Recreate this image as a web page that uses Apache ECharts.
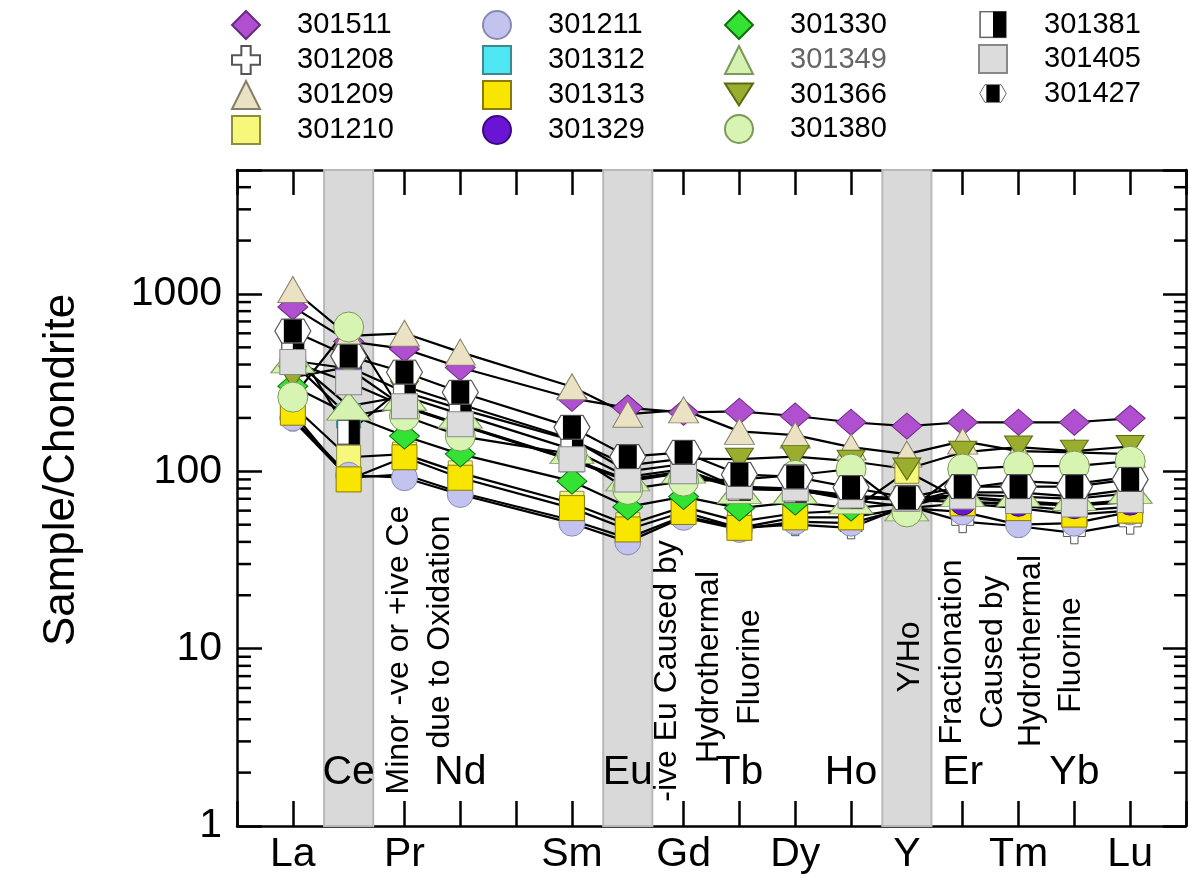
<!DOCTYPE html>
<html>
<head>
<meta charset="utf-8">
<script src="https://cdn.jsdelivr.net/npm/echarts@6/dist/echarts.min.js"></script>
<style>
  html, body { margin: 0; padding: 0; background: #fff; }
  #chart { width: 1189px; height: 879px; }
</style>
</head>
<body>
<div id="chart"></div>
<script>
// x positions: one per element, Pm has no data
const elements = ['La', 'Ce', 'Pr', 'Nd', 'Pm', 'Sm', 'Eu', 'Gd', 'Tb', 'Dy', 'Ho', 'Y', 'Er', 'Tm', 'Yb', 'Lu'];
const outerLabels = ['La', 'Pr', 'Sm', 'Gd', 'Dy', 'Y', 'Tm', 'Lu'];
const innerLabels = ['Ce', 'Nd', 'Eu', 'Tb', 'Ho', 'Er', 'Yb'];
const bandElements = ['Ce', 'Eu', 'Y'];
const yTickLabels = [1, 10, 100, 1000];
const yMinorTicks = [2, 3, 4, 5, 6, 7, 8, 9, 20, 30, 40, 50, 60, 70, 80, 90,
  200, 300, 400, 500, 600, 700, 800, 900, 2000, 3000, 4000];

// Sample/Chondrite, order La..Lu (null = Pm)
const s301511 = [845, 540, 490, 385, null, 258, 228, 215, 218, 205, 189, 180, 189, 189, 189, 199];
const s301208 = [195, 92, 96, 76, null, 53, 42, 56, 48, 50, 48, 64, 52, 49, 45, 51];
const s301209 = [1060, 580, 600, 470, null, 300, 210, 222, 168, 160, 137, 125, 148, 130, 128, 125];
const s301210 = [235, 120, 125, 98, null, 66, 50, 63, 52, 58, 60, 100, 68, 64, 60, 63];
const s301211 = [200, 95, 92, 74, null, 51, 40, 55, 47, 52, 51, 62, 59, 50, 51, 59];
const s301312 = [410, 205, 231, 183, null, 116, 89, 99, 81, 79, 72, 69, 71, 67, 64, 68];
const s301313 = [214, 90, 120, 92, null, 62, 47, 59, 48, 55, 55, 62, 66, 62, 57, 60];
const s301329 = [420, 380, 230, 182, null, 115, 88, 98, 80, 78, 71, 69, 67, 66, 64, 67];
const s301330 = [302, 210, 158, 125, null, 88, 63, 72, 62, 67, 62, 66, 80, 88, 85, 93];
const s301349 = [430, 233, 265, 210, null, 133, 93, 103, 79, 79, 69, 63, 76, 76, 72, 79];
const s301366 = [340, 387, 280, 225, null, 150, 108, 118, 117, 121, 114, 103, 128, 137, 130, 138];
const s301380 = [262, 651, 205, 158, null, 125, 79, 88, 90, 95, 103, 59, 103, 107, 107, 114];
const s301381 = [535, 166, 302, 239, null, 152, 100, 110, 80, 78, 72, 70, 74, 72, 70, 75];
const s301405 = [413, 318, 233, 184, null, 117, 90, 100, 82, 80, 73, 70, 72, 68, 65, 69];
const s301427 = [618, 446, 362, 279, null, 177, 121, 128, 96, 93, 81, 71, 82, 82, 82, 90];

const svgIcon = s => 'image://data:image/svg+xml;charset=utf-8,' + encodeURIComponent(s);
const halfSquare = svgIcon("<svg xmlns='http://www.w3.org/2000/svg' width='26' height='26'><rect x='1' y='1' width='24' height='24' fill='#fff' stroke='#666' stroke-width='1.5'/><rect x='13' y='1' width='12' height='24' fill='#000'/></svg>");
const hexBlock = svgIcon("<svg xmlns='http://www.w3.org/2000/svg' width='38' height='26'><polygon points='1,13 8,1 30,1 37,13 30,25 8,25' fill='#fff' stroke='#555' stroke-width='1.2'/><rect x='10' y='1.5' width='18' height='23' fill='#000'/></svg>");
const crossPath = 'path://M8,0H16V8H24V16H16V24H8V16H0V8H8Z';
const downTriangle = 'path://M0,0H28L14,22Z';

const samples = [
  { name: '301511', data: s301511, symbol: 'diamond', size: [30, 26], color: '#b04fd0', border: '#6a2a80' },
  { name: '301208', data: s301208, symbol: crossPath, size: 22, color: '#ffffff', border: '#555' },
  { name: '301209', data: s301209, symbol: 'triangle', size: [30, 26], color: '#ebe2c4', border: '#857e6a' },
  { name: '301210', data: s301210, symbol: 'rect', size: [24, 24], color: '#f7f77c', border: '#8d8d3c' },
  { name: '301211', data: s301211, symbol: 'circle', size: 26, color: '#c3c3f0', border: '#8a8ab0' },
  { name: '301312', data: s301312, symbol: 'rect', size: [24, 24], color: '#4fe6f4', border: '#3a8a90' },
  { name: '301313', data: s301313, symbol: 'rect', size: [25, 25], color: '#f8e600', border: '#8a7a00' },
  { name: '301329', data: s301329, symbol: 'circle', size: 26, color: '#6a14d6', border: '#3a0a80' },
  { name: '301330', data: s301330, symbol: 'diamond', size: [30, 26], color: '#33e233', border: '#107010' },
  { name: '301349', data: s301349, symbol: 'triangle', size: [44, 28], color: '#d5f2b0', border: '#7a9a5a' },
  { name: '301366', data: s301366, symbol: downTriangle, size: [28, 22], color: '#9aad2e', border: '#5a6a10' },
  { name: '301380', data: s301380, symbol: 'circle', size: 30, color: '#d7f4b3', border: '#7a9a5a' },
  { name: '301381', data: s301381, symbol: halfSquare, size: [24, 26], color: '#000', border: '#666' },
  { name: '301405', data: s301405, symbol: 'rect', size: [26, 25], color: '#dcdcdc', border: '#888' },
  { name: '301427', data: s301427, symbol: hexBlock, size: [38, 26], color: '#000', border: '#555' }
];

const legendCols = [
  ['301511', '301208', '301209', '301210'],
  ['301211', '301312', '301313', '301329'],
  ['301330', '301349', '301366', '301380'],
  ['301381', '301405', '301427']
];
const legendLeft = [231, 482, 724, 978];

const FONT = 'Liberation Sans';
const toPoints = arr => arr.map((v, i) => [i, v]).filter(d => d[1] != null);
const isDecade = v => Math.abs(Math.log10(v) - Math.round(Math.log10(v))) < 1e-6;

const chart = echarts.init(document.getElementById('chart'));

const scatterSeries = samples.map(s => ({
  name: s.name,
  type: 'scatter',
  data: toPoints(s.data),
  symbol: s.symbol,
  symbolSize: s.size,
  itemStyle: { color: s.color, borderColor: s.border, borderWidth: 1, opacity: 1 },
  z: 4,
  silent: true
}));

const lineSeries = samples.map(s => ({
  name: s.name,
  type: 'line',
  data: toPoints(s.data),
  showSymbol: false,
  symbol: 'none',
  lineStyle: { color: '#000', width: 2.2 },
  z: 3,
  silent: true
}));

const note = (text, x, y) => ({
  type: 'text', x, y, rotation: Math.PI / 2, z: 20,
  style: { text, font: '32px "Liberation Sans"', fill: '#000', align: 'center', verticalAlign: 'middle' }
});

chart.setOption({
  animation: false,
  grid: { left: 237, right: 0, top: 170, bottom: 53 },
  legend: legendCols.map((names, c) => ({
    orient: 'vertical',
    left: legendLeft[c],
    top: 10,
    padding: 0,
    itemWidth: 28,
    itemHeight: 28,
    itemGap: 5,
    selectedMode: false,
    textStyle: { fontSize: 29, color: '#000', fontFamily: FONT, lineHeight: 29, padding: [0, 0, 0, 32] },
    data: names.map(n => n === '301349'
      ? { name: n, textStyle: { color: '#666', fontSize: 29, fontFamily: FONT, padding: [0, 0, 0, 32] } }
      : { name: n })
  })),
  xAxis: [
    {
      type: 'value', position: 'bottom', min: -1, max: 16, interval: 1,
      axisLine: { onZero: false, lineStyle: { color: '#000', width: 2.5 } },
      axisTick: { inside: true, length: 25, lineStyle: { color: '#000', width: 2.5 } },
      axisLabel: {
        color: '#000', fontSize: 41, fontFamily: FONT, margin: 8,
        formatter: v => outerLabels.includes(elements[v]) ? elements[v] : ''
      },
      splitLine: { show: false }
    },
    {
      type: 'value', position: 'bottom', min: -1, max: 16, interval: 1, z: 20,
      axisLine: { show: false, onZero: false }, axisTick: { show: false },
      axisLabel: {
        inside: true, color: '#000', fontSize: 41, fontFamily: FONT, margin: 33,
        formatter: v => innerLabels.includes(elements[v]) ? elements[v] : ''
      },
      splitLine: { show: false }
    },
    {
      type: 'value', position: 'top', min: -1, max: 16, interval: 1,
      axisLine: { onZero: false, lineStyle: { color: '#000', width: 2.5 } },
      axisTick: { inside: true, length: 25, lineStyle: { color: '#000', width: 2.5 } },
      axisLabel: { show: false },
      splitLine: { show: false }
    }
  ],
  yAxis: [
    {
      type: 'log', logBase: 10, min: 1, max: 5000, position: 'left',
      axisLine: { show: true, onZero: false, lineStyle: { color: '#000', width: 2.5 } },
      axisTick: { inside: true, length: 25, lineStyle: { color: '#000', width: 2.5 } },
      axisLabel: {
        color: '#000', fontSize: 41, fontFamily: FONT, margin: 15,
        formatter: v => (isDecade(v) && yTickLabels.includes(Math.round(v))) ? String(Math.round(v)) : ''
      },
      splitLine: { show: false }
    },
    {
      type: 'log', logBase: 10, min: 1, max: 5000, position: 'right',
      axisLine: { show: true, onZero: false, lineStyle: { color: '#000', width: 2.5 } },
      axisTick: { inside: true, length: 23, lineStyle: { color: '#000', width: 2.5 } },
      axisLabel: { show: false },
      splitLine: { show: false }
    }
  ],
  graphic: [
    { type: 'text', x: 62, y: 470, rotation: Math.PI / 2, z: 20,
      style: { text: 'Sample/Chondrite', font: '44px "Liberation Sans"', fill: '#000', align: 'center', verticalAlign: 'middle' } },
    note('Minor -ve or +ive Ce', 399, 650),
    note('due to Oxidation', 440, 632),
    note('-ive Eu Caused by', 667, 671),
    note('Hydrothermal', 709, 667),
    note('Fluorine', 750, 667),
    note('Y/Ho', 910, 657),
    note('Fractionation', 952, 652),
    note('Caused by', 993, 652),
    note('Hydrothermal', 1031, 651),
    note('Fluorine', 1071, 655)
  ],
  series: [
    {
      name: 'bands', type: 'line', data: [], z: 1, silent: true,
      markArea: {
        silent: true,
        itemStyle: { color: '#d9d9d9', borderColor: '#b9b9b9', borderWidth: 2 },
        data: bandElements.map(e => {
          const i = elements.indexOf(e);
          return [{ xAxis: i - 0.44 }, { xAxis: i + 0.44 }];
        })
      }
    },
    {
      name: 'minorTicks', type: 'custom', silent: true, z: 5, clip: false,
      data: yMinorTicks.map(v => [-1, v]),
      renderItem: (params, api) => {
        const v = api.value(1);
        const l = api.coord([-1, v]);
        const r = api.coord([16, v]);
        return {
          type: 'group',
          children: [
            { type: 'line', shape: { x1: l[0], y1: l[1], x2: l[0] + 14, y2: l[1] }, style: { stroke: '#000', lineWidth: 2.5 } },
            { type: 'line', shape: { x1: r[0] - 12, y1: r[1], x2: r[0], y2: r[1] }, style: { stroke: '#000', lineWidth: 2.5 } }
          ]
        };
      }
    },
    ...scatterSeries,
    ...lineSeries
  ]
});
</script>
</body>
</html>
